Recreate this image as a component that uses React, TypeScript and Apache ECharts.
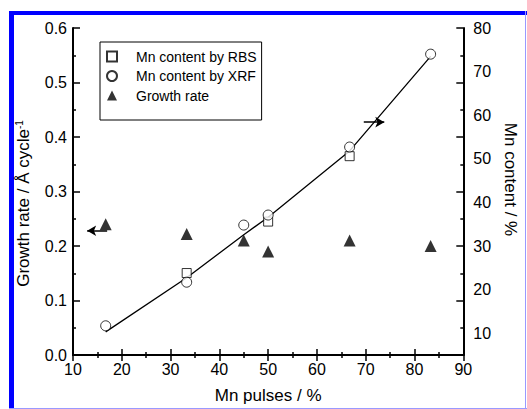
import React, { useEffect, useRef } from "react";
import * as echarts from "echarts";

// Data
const pulses = [16.7, 33.3, 45, 50, 66.7, 83.3];
const growthRate = [0.24, 0.222, 0.21, 0.19, 0.21, 0.2];
const xrfContent = [11.7, 21.7, 34.8, 37.1, 52.7, 74.0];
const rbsPulses = [33.3, 50, 66.7];
const rbsContent = [23.8, 35.6, 50.6];
const fitContent = [10.3, 22.7, 32.6, 36.6, 51.8, 73.5];
const contentLabels = [10, 20, 30, 40, 50, 60, 70, 80];
const rateArrow = [[17.0, 0.228], [12.9, 0.228]];
const contentArrow = [[69.6, 58.4], [73.8, 58.4]];

const FONT = "'Liberation Sans', Arial, sans-serif";

export default function App() {
  const ref = useRef<HTMLDivElement>(null);
  useEffect(() => {
    const chart = echarts.init(ref.current!, undefined, { renderer: "svg" });
    const axisLine = { show: true, lineStyle: { color: "#000", width: 2 } };
    const xTick = { show: true, inside: true, length: 6, lineStyle: { color: "#000", width: 1.5 } };
    const yTick = { show: true, inside: true, length: 7, lineStyle: { color: "#000", width: 1.5 } };
    const minor = { show: true, splitNumber: 2, length: 3, lineStyle: { color: "#000", width: 1.5 } };
    const label = { fontFamily: FONT, fontSize: 16, color: "#000" };
    const nameStyle = { fontFamily: FONT, fontSize: 17, color: "#000" };

    chart.setOption({
      animation: false,
      backgroundColor: "#fff",
      grid: { left: 73, right: 51, top: 28, bottom: 53 },
      xAxis: [
        {
          type: "value", min: 10, max: 90, interval: 10, position: "bottom",
          axisLine, axisTick: xTick, minorTick: minor, splitLine: { show: false },
          axisLabel: { ...label, margin: 6 },
          name: "Mn pulses / %", nameLocation: "middle", nameGap: 32, nameTextStyle: nameStyle,
        },
        {
          type: "value", min: 10, max: 90, interval: 10, position: "top",
          axisLine, axisTick: xTick, minorTick: minor, splitLine: { show: false },
          axisLabel: { show: false },
        },
      ],
      yAxis: [
        {
          type: "value", min: 0, max: 0.6, interval: 0.1, position: "left",
          axisLine, axisTick: yTick, minorTick: minor, splitLine: { show: false },
          axisLabel: { ...label, margin: 6, formatter: (v: number) => v.toFixed(1) },
          name: "Growth rate / Å cycle{sup|-1}", nameLocation: "middle", nameGap: 40,
          nameRotate: 90,
          nameTextStyle: {
            ...nameStyle, padding: [0, 24, 0, 0],
            rich: { sup: { fontFamily: FONT, fontSize: 10, color: "#000", padding: [0, 0, 9, 0] } },
          },
        },
        {
          type: "value", min: 0, max: 0.6, interval: 0.1, position: "right",
          axisLine, axisTick: yTick, minorTick: minor, splitLine: { show: false },
          axisLabel: { show: false },
        },
        {
          type: "value", min: 5, max: 80, position: "right",
          axisLine: { show: false }, axisTick: { show: false }, splitLine: { show: false },
          axisLabel: { ...label, margin: 10, customValues: contentLabels },
          name: "Mn content / %", nameLocation: "middle", nameGap: 36, nameRotate: -90,
          nameTextStyle: { ...nameStyle, padding: [0, 24, 0, 0] },
        },
      ],
      legend: {
        orient: "vertical", left: 100, top: 42,
        padding: [6, 5, 16, 6], itemGap: 2.5, itemWidth: 10, itemHeight: 10,
        borderColor: "#000", borderWidth: 1, selectedMode: false,
        textStyle: { fontFamily: FONT, fontSize: 14, color: "#000", lineHeight: 17, padding: [0, 0, 0, 14] },
        data: ["Mn content by RBS", "Mn content by XRF", "Growth rate"],
      },
      graphic: [
        { type: "rect", shape: { x: 9, y: 11, width: 518, height: 4 }, style: { fill: "#0000ff" }, silent: true },
        { type: "rect", shape: { x: 9, y: 11, width: 5, height: 398 }, style: { fill: "#0000ff" }, silent: true },
        { type: "line", shape: { x1: 525.5, y1: 11, x2: 525.5, y2: 409 }, style: { stroke: "#9999ff", lineWidth: 1 }, silent: true },
        { type: "line", shape: { x1: 9, y1: 408.5, x2: 527, y2: 408.5 }, style: { stroke: "#9999ff", lineWidth: 1 }, silent: true },
      ],
      series: [
        {
          name: "fit", type: "line", xAxisIndex: 0, yAxisIndex: 2,
          data: pulses.map((p, i) => [p, fitContent[i]]),
          showSymbol: false, symbol: "none", lineStyle: { color: "#000", width: 1.3 }, z: 1, silent: true,
          markLine: {
            silent: true, symbol: ["none", "arrow"], symbolSize: [8, 9], label: { show: false },
            lineStyle: { color: "#000", width: 1.5, type: "solid" },
            data: [[{ coord: contentArrow[0] }, { coord: contentArrow[1] }]],
          },
        },
        {
          name: "Mn content by RBS", type: "scatter", xAxisIndex: 0, yAxisIndex: 2,
          data: rbsPulses.map((p, i) => [p, rbsContent[i]]),
          symbol: "rect", symbolSize: 9,
          itemStyle: { color: "#fff", borderColor: "#000", borderWidth: 1 }, z: 3,
        },
        {
          name: "Mn content by XRF", type: "scatter", xAxisIndex: 0, yAxisIndex: 2,
          data: pulses.map((p, i) => [p, xrfContent[i]]),
          symbol: "circle", symbolSize: 10,
          itemStyle: { color: "#fff", borderColor: "#000", borderWidth: 1 }, z: 4,
        },
        {
          name: "Growth rate", type: "scatter", xAxisIndex: 0, yAxisIndex: 0,
          data: pulses.map((p, i) => [p, growthRate[i]]),
          symbol: "triangle", symbolSize: 12,
          itemStyle: { color: "#000" }, z: 5,
          markLine: {
            silent: true, symbol: ["none", "arrow"], symbolSize: [8, 9], label: { show: false },
            lineStyle: { color: "#000", width: 1.5, type: "solid" },
            data: [[{ coord: rateArrow[0] }, { coord: rateArrow[1] }]],
          },
        },
      ],
    });
    return () => chart.dispose();
  }, []);
  return (
    <div
      ref={ref}
      style={{ position: "absolute", left: 0, top: 0, width: 527, height: 409 }}
    />
  );
}
